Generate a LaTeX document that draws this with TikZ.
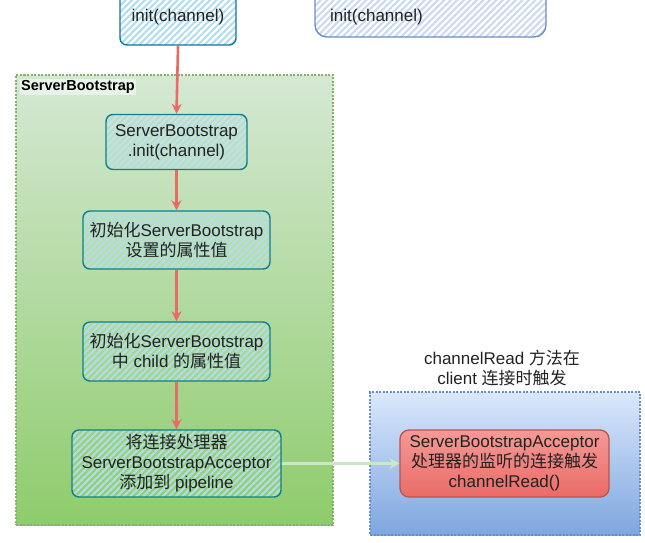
\documentclass[tikz,border=0pt]{standalone}
\usepackage{fontspec}
\setmainfont{Liberation Sans}
\newfontfamily\cjk{Noto Sans CJK SC}
\usetikzlibrary{patterns.meta,arrows.meta}
\newcommand{\zh}[1]{{\cjk #1}}
\definecolor{tealb}{HTML}{0E8088}
\definecolor{tealh}{HTML}{B1DDE6}
\definecolor{blueb}{HTML}{10739E}
\definecolor{blueh}{HTML}{B1DDF0}
\definecolor{lblueb}{HTML}{6C8EBF}
\definecolor{lblueh}{HTML}{C9DAF2}
\definecolor{redarr}{HTML}{EA6B66}
\definecolor{redb}{HTML}{B85450}
\definecolor{gtop}{HTML}{D5E8D4}
\definecolor{gbot}{HTML}{8FCC6C}
\definecolor{gborder}{HTML}{82B366}
\definecolor{btop}{HTML}{DAE8FC}
\definecolor{bbot}{HTML}{7EA6E0}
\definecolor{garr}{HTML}{CDE6C8}
\definecolor{txt}{HTML}{222222}
\tikzset{
  txtfont/.style={font=\fontsize{17}{20}\selectfont, text=txt},
  hatchbox/.style={rectangle, rounded corners=7pt, line width=1.4pt, align=center, txtfont,
    pattern={Lines[angle=45,distance=4.6pt,line width=2.1pt]}},
  tealbox/.style={hatchbox, draw=tealb, pattern color=tealh},
  container/.style={rectangle, line width=1.1pt, dash pattern=on 2pt off 1.5pt},
  redflow/.style={draw=redarr, line width=2.6pt, -{Stealth[length=10pt,width=10pt]}},
}
\begin{document}
\begin{tikzpicture}[x=1pt,y=-1pt]
\useasboundingbox (0,0) rectangle (645,542);
\clip (0,0) rectangle (645,542);
% top boxes (cut off at top)
\node[hatchbox, draw=blueb, pattern color=blueh, minimum width=116pt, minimum height=56pt] (top) at (178,17) {init(channel)};
\node[hatchbox, draw=lblueb, pattern color=lblueh, minimum width=231pt, minimum height=58pt, rounded corners=12pt] (topr) at (430.5,8) {};
\node[txtfont, anchor=west, inner sep=0pt] (toprtext) at (330,17) {init(channel)};
% green container
\node[container, draw=gborder, top color=gtop, bottom color=gbot, minimum width=317pt, minimum height=450pt] (gcont) at (174.5,300) {};
\node[anchor=west, inner sep=1pt, font=\fontsize{14.5}{17}\selectfont\bfseries, fill=white, fill opacity=0.5, text opacity=1] (glabel) at (20,87) {ServerBootstrap};
% blue container
\node[container, draw=lblueb, top color=btop, bottom color=bbot, minimum width=270pt, minimum height=143pt] (bcont) at (505,463.5) {};
\node[txtfont, align=center] (blabel) at (502,368) {channelRead \zh{方法在}\\client \zh{连接时触发}};
% teal nodes
\node[tealbox, minimum width=141pt, minimum height=55pt] (n1) at (176.5,142) {ServerBootstrap\\.init(channel)};
\node[tealbox, minimum width=187pt, minimum height=58pt] (n2) at (176.5,240) {\zh{初始化}ServerBootstrap\\\zh{设置的属性值}};
\node[tealbox, minimum width=187pt, minimum height=59pt] (n3) at (176.5,351.5) {\zh{初始化}ServerBootstrap\\\zh{中} child \zh{的属性值}};
\node[tealbox, minimum width=209pt, minimum height=67pt] (n4) at (176.5,463.5) {\zh{将连接处理器}\\ServerBootstrapAcceptor\\\zh{添加到} pipeline};
% red node
\node[rectangle, rounded corners=9pt, draw=redb, line width=1.3pt, top color=red!20!redarr!60!white, bottom color=redarr, align=center, txtfont, minimum width=209pt, minimum height=67pt] (acc) at (504.5,463.5) {ServerBootstrapAcceptor\\\zh{处理器的监听的连接触发}\\channelRead()};
% connectors
\draw[redflow] (top.south) -- (n1.north);
\draw[redflow] (n1.south) -- (n2.north);
\draw[redflow] (n2.south) -- (n3.north);
\draw[redflow] (n3.south) -- (n4.north);
\draw[draw=garr, line width=2.8pt, -{Stealth[length=10pt,width=11pt]}] (n4.east) -- (acc.west);
\end{tikzpicture}
\end{document}
